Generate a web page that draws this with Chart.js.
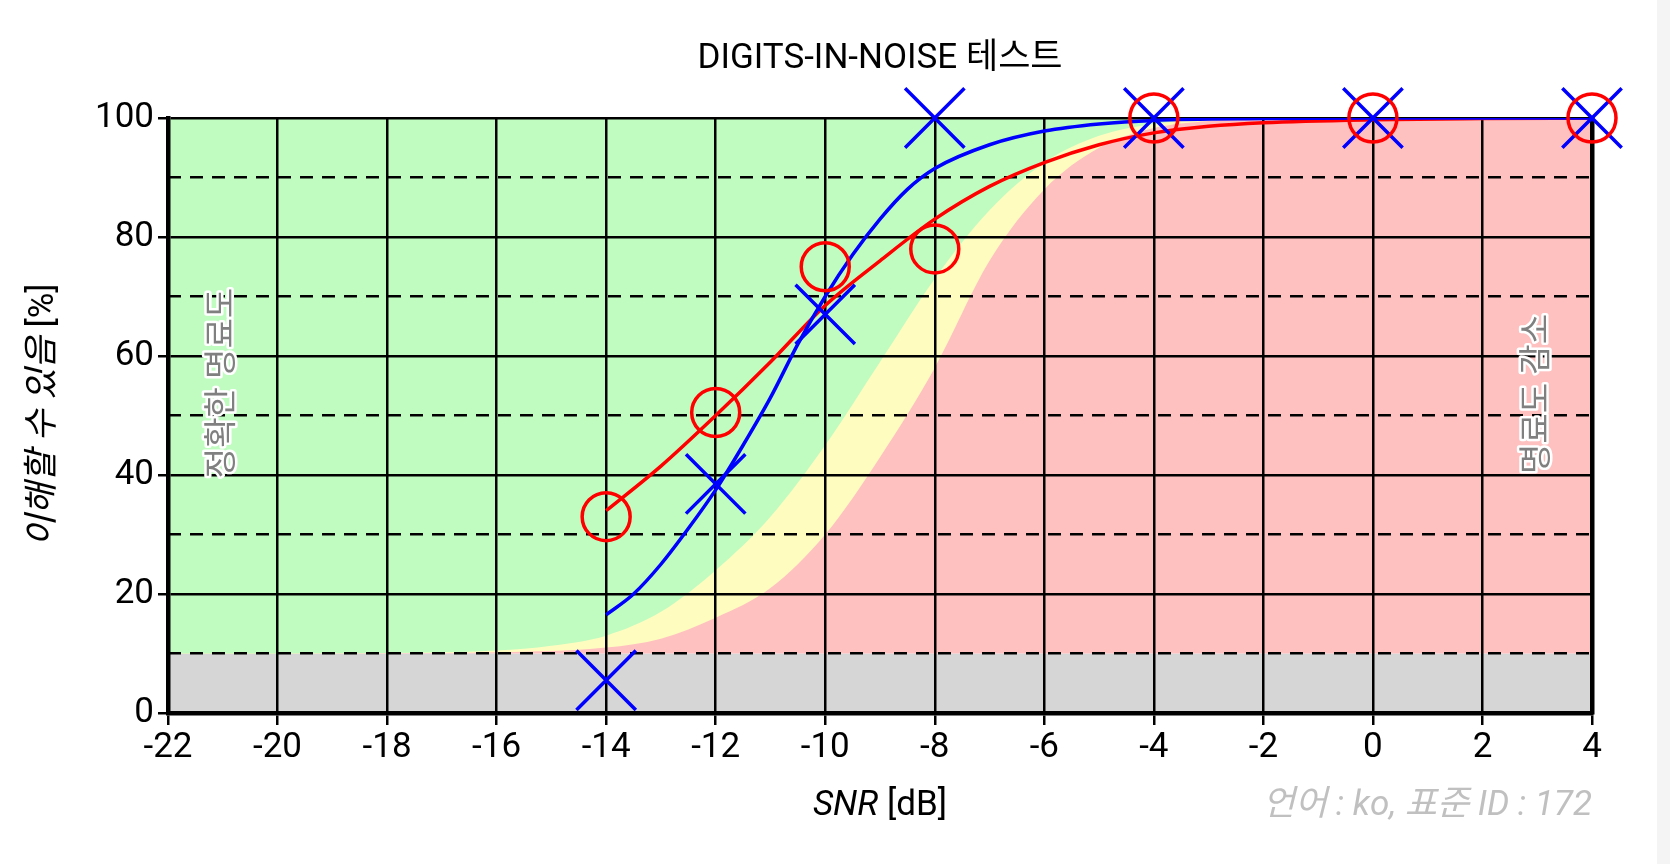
<!DOCTYPE html>
<html><head><meta charset="utf-8">
<script src="https://cdn.jsdelivr.net/npm/chart.js@4"></script>
<style>html,body{margin:0;padding:0;background:#fff;}#r{position:absolute;left:1657px;top:0;width:13px;height:864px;background:#f4f4f4}</style>
</head><body>
<canvas id="c" width="1670" height="864" style="width:1670px;height:864px"></canvas><div id="r"></div>
<script>
const xTicks=[-22,-20,-18,-16,-14,-12,-10,-8,-6,-4,-2,0,2,4];
const yTicks=[0,20,40,60,80,100];
const edgeX=[-22,4];
const greyLevel=[10,10];
const redTop=[100,100];
const greenX=[-22,-18,-16,-15,-14,-13,-12,-11,-10,-9,-8,-7,-6,-5,-4,-3,-2,4];
const greenY=[10,10.1,10.5,11.3,13,17,24,33,45,59,73,84.5,92.5,97,99,99.8,100,100];
const yellowX=[-22,-18,-16,-14,-13,-12,-11,-10,-9,-8,-7,-6,-5,-4,-3,-2,4];
const yellowY=[10,10.05,10.2,11,12.5,16,21,30,43,58,76,88,95,98.3,99.5,100,100];
const blueFitX=[-14,-13.5,-13,-12.5,-12,-11.5,-11,-10.5,-10,-9.5,-9,-8.5,-8,-7,-6,-5,-4,-2,0,4];
const blueFitY=[16.5,20,25,31,37.5,45,53,62,70,77,83,88,91.5,95.5,97.8,99,99.6,99.9,100,100];
const redFitX=[-14,-13,-12,-11,-10,-9,-8,-7,-6,-5,-4,-3,-2,0,2,4];
const redFitY=[34,41.5,50,59,68.5,76,83,88.5,92.5,95.5,97.5,98.6,99.2,99.7,99.9,100];
const redPtsX=[-14,-12,-10,-8,-4,0,4];
const redPtsY=[33,50.5,75,78,100,100,100];
const bluePtsX=[-14,-12,-10,-8,-4,0,4];
const bluePtsY=[5.5,38.5,67,100,100,100,100];
const zip=(a,b)=>a.map((x,i)=>({x:x,y:b[i]}));
const FF='Roboto, "Noto Sans CJK KR", sans-serif';
const FS=35;
const fillDs=(d,color,fill,order)=>({data:d,backgroundColor:color,borderWidth:0,pointRadius:0,fill:fill,order:order,cubicInterpolationMode:'monotone'});
const texts={id:'texts',afterDraw(ch){const c=ch.ctx;c.save();
 c.fillStyle='#000';c.textAlign='center';c.textBaseline='middle';
 c.font=FS+'px '+FF;c.fillText('DIGITS-IN-NOISE 테스트',880,59);
 c.font='italic '+FS+'px '+FF;const a='SNR';const b=' [dB]';
 let wa=c.measureText(a).width;c.font=FS+'px '+FF;let wb=c.measureText(b).width;
 let x0=880-(wa+wb)/2;c.textAlign='left';c.font='italic '+FS+'px '+FF;c.fillText(a,x0,806);c.font=FS+'px '+FF;c.fillText(b,x0+wa,806);
 c.save();c.translate(44,415);c.rotate(-Math.PI/2);
 c.font='italic '+FS+'px '+FF;const ya='이해할 수 있음';const yb=' [%]';wa=c.measureText(ya).width;c.font=FS+'px '+FF;wb=c.measureText(yb).width;
 x0=-(wa+wb)/2;c.font='italic '+FS+'px '+FF;c.fillText(ya,x0,0);c.font=FS+'px '+FF;c.fillText(yb,x0+wa,0);c.restore();
 c.font='33px '+FF;c.textAlign='center';c.lineWidth=5;c.strokeStyle='#fff';c.fillStyle='#808080';c.lineJoin='round';
 [[224,383,'정확한 명료도'],[1539,394,'명료도 감소']].forEach(t=>{c.save();c.translate(t[0],t[1]);c.rotate(-Math.PI/2);c.strokeText(t[2],0,0);c.fillText(t[2],0,0);c.restore();});
 c.font='italic '+FS+'px '+FF;c.textAlign='right';c.fillStyle='#c0c0c0';c.fillText('언어 : ko, 표준 ID : 172',1592,806);
 c.restore();}};
new Chart(document.getElementById('c'),{type:'line',
 data:{datasets:[
  {data:zip(redPtsX,redPtsY),showLine:false,clip:false,pointStyle:'circle',pointRadius:24,pointBorderColor:'#ff0000',pointBackgroundColor:'rgba(0,0,0,0)',pointBorderWidth:3.5,order:0},
  {data:zip(bluePtsX,bluePtsY),showLine:false,clip:false,pointStyle:'crossRot',pointRadius:42,pointBorderColor:'#0000ff',pointBorderWidth:3.5,order:0},
  {data:zip(blueFitX,blueFitY),borderColor:'#0000ff',borderWidth:3.5,pointRadius:0,fill:false,cubicInterpolationMode:'monotone',order:1},
  {data:zip(redFitX,redFitY),borderColor:'#ff0000',borderWidth:3.5,pointRadius:0,fill:false,cubicInterpolationMode:'monotone',order:1},
  fillDs(zip(greenX,greenY),'#c0fcc0','end',2),
  fillDs(zip(yellowX,yellowY),'#fffcc0','end',3),
  fillDs(zip(edgeX,redTop),'#ffc0c0',{value:10},4),
  fillDs(zip(edgeX,greyLevel),'#d6d6d6','origin',5)
 ]},
 options:{responsive:false,animation:false,events:[],layout:{padding:{top:118,left:0,right:0,bottom:0}},
  plugins:{legend:{display:false},tooltip:{enabled:false},filler:{drawTime:'beforeDraw'}},
  scales:{
   x:{type:'linear',min:-22,max:4,afterFit:s=>{s.height=151},afterBuildTicks:s=>{s.ticks=xTicks.map(v=>({value:v}))},
      ticks:{font:{size:FS,family:FF},color:'#000',maxRotation:0,padding:2},
      grid:{color:'#000',lineWidth:2.5,tickLength:12},border:{color:'#000',width:4.5}},
   y:{min:0,max:100,afterFit:s=>{s.width=168},afterBuildTicks:s=>{s.ticks=yTicks.map(v=>({value:v}))},
      ticks:{font:{size:FS,family:FF},color:'#000',padding:4},
      grid:{color:'#000',lineWidth:2.5,tickLength:10},border:{color:'#000',width:4.5}},
   y2:{position:'right',min:0,max:100,afterFit:s=>{s.width=78},ticks:{display:false,stepSize:10},
      grid:{color:ctx=>(ctx.tick&&ctx.tick.value%20!==0)?'#000':'rgba(0,0,0,0)',lineWidth:2.5,tickLength:0,drawTicks:false},
      border:{color:'#000',width:4.5,dash:[13,9]}}
  }},
 plugins:[texts]});
</script></body></html>
